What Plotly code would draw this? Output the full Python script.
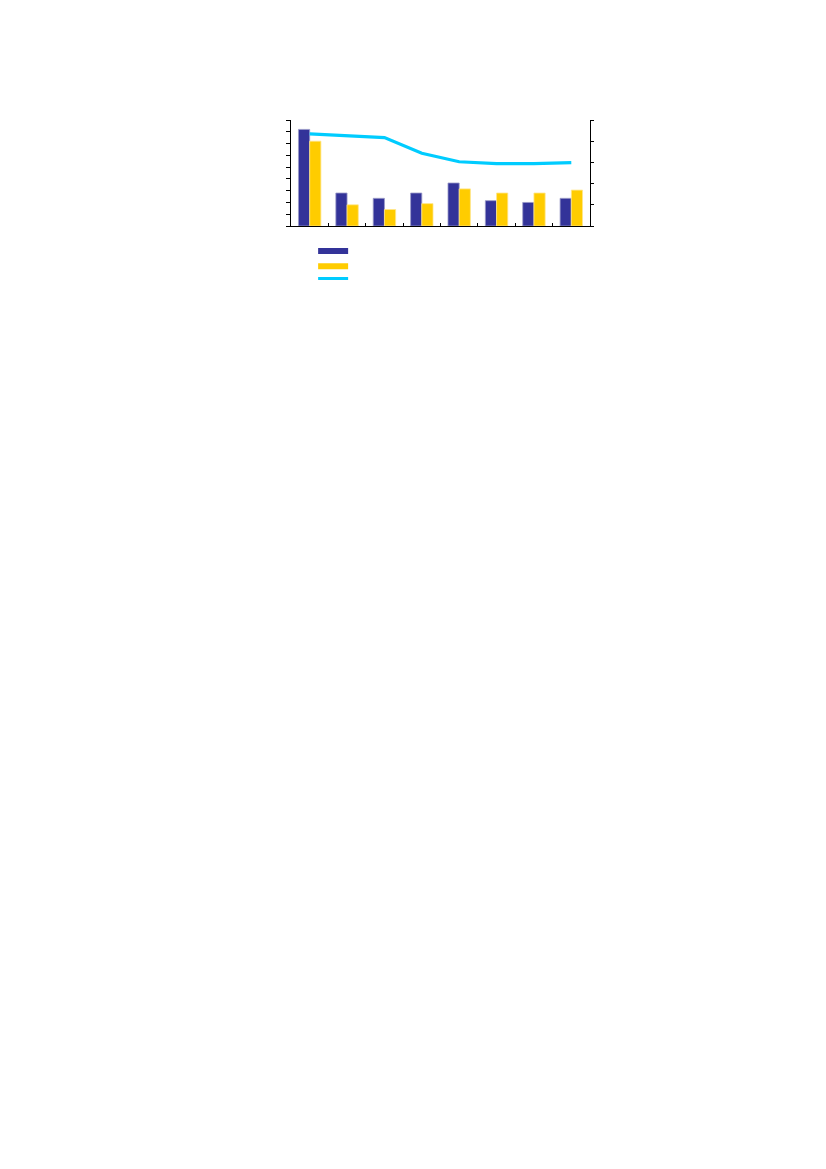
import plotly.graph_objects as go

# categories (no labels are shown in the original)
categories = ["1", "2", "3", "4", "5", "6", "7", "8"]

# bar series, left axis (0-9)
series_a = [8.2, 2.8, 2.35, 2.8, 3.65, 2.15, 2.0, 2.35]
series_b = [7.2, 1.8, 1.4, 1.9, 3.15, 2.8, 2.8, 3.05]

# line series, right axis (0-5)
series_c = [4.35, 4.26, 4.17, 3.43, 3.03, 2.94, 2.94, 2.99]

blue = "#333399"
yellow = "#FFCC00"
cyan = "#00CCFF"

fig = go.Figure()
fig.add_trace(go.Bar(
    x=categories, y=series_a, marker=dict(color=blue, line=dict(color="#9a9ac8", width=0.8)),
    showlegend=False
))
fig.add_trace(go.Bar(
    x=categories, y=series_b, marker=dict(color=yellow, line=dict(color="#ffe68a", width=0.8)),
    showlegend=False
))
fig.add_trace(go.Scatter(
    x=categories, y=series_c, mode="lines", yaxis="y2",
    line=dict(color=cyan, width=3.2), showlegend=False
))

# legend keys (no text in the original), one small legend each so the
# spacing can be tighter than plotly's minimum item height
keys = [(blue, 6, "legend", -0.099), (yellow, 6, "legend2", -0.2425), (cyan, 3, "legend3", -0.358)]
legends = {}
for col, w, lg, ypos in keys:
    fig.add_trace(go.Scatter(
        x=[None], y=[None], mode="lines", name=" ", legend=lg,
        line=dict(color=col, width=w), showlegend=True
    ))
    legends[lg] = dict(
        x=0.074, y=ypos, xanchor="left", yanchor="top",
        font=dict(size=8), itemwidth=30, bgcolor="rgba(0,0,0,0)"
    )

fig.update_layout(
    width=826, height=1169,
    margin=dict(l=283, r=244, t=112, b=951),
    paper_bgcolor="white", plot_bgcolor="white",
    barmode="group", bargap=0.4, bargroupgap=0,
    xaxis=dict(
        showline=True, linecolor="black", linewidth=1.3,
        ticks="inside", ticklen=3, tickcolor="black", tickson="boundaries",
        showticklabels=False, showgrid=False, zeroline=False
    ),
    yaxis=dict(
        range=[0, 9], dtick=1, showline=True, linecolor="black", linewidth=1.3,
        ticks="outside", ticklen=4, tickcolor="black",
        showticklabels=False, showgrid=False, zeroline=False
    ),
    yaxis2=dict(
        range=[0, 5], dtick=1, overlaying="y", side="right",
        showline=True, linecolor="black", linewidth=1.3,
        ticks="outside", ticklen=3, tickcolor="black",
        showticklabels=False, showgrid=False, zeroline=False
    ),
    **legends
)

fig.write_html("out.html")
